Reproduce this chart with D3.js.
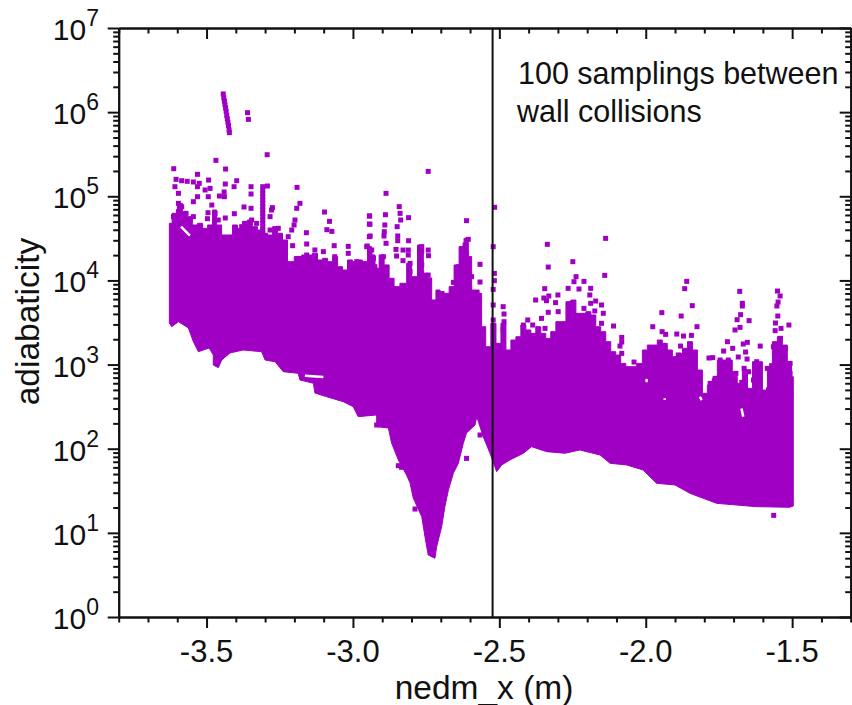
<!DOCTYPE html>
<html><head><meta charset="utf-8">
<script src="https://cdn.jsdelivr.net/npm/d3@7/dist/d3.min.js"></script>
<style>html,body{margin:0;padding:0;background:#fff}svg{display:block}text{font-family:"Liberation Sans",Arial,sans-serif;fill:#111}</style>
</head><body><svg id="c" width="852" height="705"></svg>
<script>
// values; y stored as log10(adiabaticity)
const xMajorTicks=[-3.5,-3.0,-2.5,-2.0,-1.5];
const xTickLabels=["-3.5","-3.0","-2.5","-2.0","-1.5"];
const xMinorTicks=[-3.8,-3.7,-3.6,-3.4,-3.3,-3.2,-3.1,-2.9,-2.8,-2.7,-2.6,-2.4,-2.3,-2.2,-2.1,-1.9,-1.8,-1.7,-1.6,-1.4,-1.3];
const yExponents=[0,1,2,3,4,5,6,7];
const wallSampleX=-2.523;
// lower edge of the dense cloud
const lowerEdge=[[-3.627,3.494],[-3.619,3.45],[-3.596,3.51],[-3.562,3.435],[-3.545,3.272],[-3.528,3.153],[-3.491,3.197],[-3.477,3.114],[-3.477,2.995],[-3.46,2.963],[-3.448,3.054],[-3.42,3.138],[-3.375,3.173],[-3.312,3.153],[-3.3,3.054],[-3.266,3.034],[-3.238,2.915],[-3.187,2.896],[-3.181,2.817],[-3.135,2.778],[-3.13,2.662],[-3.09,2.618],[-3.033,2.559],[-2.999,2.499],[-2.982,2.381],[-2.919,2.401],[-2.919,2.262],[-2.879,2.246],[-2.868,2.068],[-2.845,1.866],[-2.817,1.688],[-2.805,1.593],[-2.794,1.414],[-2.765,1.192],[-2.754,0.954],[-2.743,0.737],[-2.72,0.698],[-2.714,0.836],[-2.697,1.073],[-2.686,1.311],[-2.674,1.509],[-2.657,1.708],[-2.64,1.827],[-2.623,2.064],[-2.612,2.187],[-2.583,2.282],[-2.577,2.381],[-2.555,2.143],[-2.532,1.946],[-2.509,1.727],[-2.492,1.807],[-2.464,1.866],[-2.418,1.946],[-2.39,2.024],[-2.338,1.965],[-2.276,1.946],[-2.225,1.985],[-2.156,1.925],[-2.122,1.827],[-2.065,1.807],[-2.009,1.747],[-1.963,1.589],[-1.9,1.569],[-1.849,1.47],[-1.804,1.411],[-1.758,1.351],[-1.69,1.331],[-1.621,1.311],[-1.508,1.304],[-1.496,1.319]];
// upper edge of the dense cloud, read column by column
const upperEdge=[[-3.627,4.679],[-3.608,4.798],[-3.591,4.916],[-3.574,4.817],[-3.557,4.758],[-3.54,4.659],[-3.522,4.679],[-3.505,4.619],[-3.488,4.659],[-3.471,4.837],[-3.46,4.659],[-3.437,4.54],[-3.42,4.54],[-3.403,4.659],[-3.386,4.619],[-3.369,4.698],[-3.352,4.718],[-3.335,4.639],[-3.317,4.599],[-3.3,4.56],[-3.283,4.54],[-3.266,4.639],[-3.249,4.56],[-3.232,4.481],[-3.215,4.223],[-3.186,4.283],[-3.164,4.302],[-3.147,4.302],[-3.13,4.322],[-3.112,4.243],[-3.095,4.263],[-3.078,4.223],[-3.061,4.283],[-3.044,4.164],[-3.027,4.124],[-3.01,4.243],[-2.993,4.223],[-2.976,4.243],[-2.959,4.223],[-2.942,4.401],[-2.93,4.303],[-2.919,4.144],[-2.902,4.303],[-2.885,4.184],[-2.868,4.025],[-2.851,3.926],[-2.828,3.966],[-2.805,4.203],[-2.794,4.045],[-2.765,4.421],[-2.754,4.085],[-2.737,4.025],[-2.725,3.768],[-2.708,3.886],[-2.697,3.867],[-2.68,3.847],[-2.663,3.926],[-2.646,4.184],[-2.629,4.402],[-2.612,4.501],[-2.6,4.283],[-2.589,3.886],[-2.572,3.886],[-2.566,3.846],[-2.555,3.45],[-2.538,3.212],[-2.52,3.49],[-2.503,3.252],[-2.486,3.49],[-2.469,3.173],[-2.452,3.292],[-2.435,3.331],[-2.418,3.47],[-2.401,3.411],[-2.384,3.371],[-2.367,3.45],[-2.35,3.371],[-2.333,3.311],[-2.316,3.391],[-2.298,3.51],[-2.281,3.51],[-2.264,3.747],[-2.247,3.767],[-2.23,3.609],[-2.213,3.609],[-2.196,3.628],[-2.179,3.589],[-2.162,3.45],[-2.145,3.391],[-2.128,3.272],[-2.111,3.153],[-2.094,3.113],[-2.077,3.014],[-2.059,2.975],[-2.042,2.975],[-2.02,3.014],[-2.003,3.173],[-1.986,3.232],[-1.969,3.232],[-1.952,3.292],[-1.935,3.252],[-1.918,3.173],[-1.9,3.094],[-1.883,3.133],[-1.866,3.193],[-1.849,3.272],[-1.832,3.173],[-1.815,2.935],[-1.798,2.658],[-1.781,2.757],[-1.764,2.836],[-1.747,3.054],[-1.73,3.054],[-1.713,3.054],[-1.696,2.915],[-1.679,2.777],[-1.661,2.935],[-1.644,2.717],[-1.627,3.034],[-1.61,3.034],[-1.593,2.697],[-1.576,2.975],[-1.559,3.272],[-1.542,3.331],[-1.525,3.232],[-1.508,3.034],[-1.496,2.856]];
// streak near the top
const streakPoints=[[-3.443,6.216],[-3.441,6.17],[-3.439,6.13],[-3.437,6.09],[-3.435,6.05],[-3.433,6.01],[-3.431,5.96],[-3.429,5.92],[-3.427,5.88],[-3.425,5.84],[-3.423,5.79],[-3.422,5.756]];
// sparse points, left part
const sparseLeft=[[-3.36,5.994],[-3.357,5.914],[-3.293,5.494],[-3.468,5.427],[-3.612,5.328],[-3.435,5.324],[-3.531,5.261],[-3.397,5.185],[-3.493,5.193],[-3.436,5.146],[-3.406,5.114],[-3.348,5.114],[-3.292,5.122],[-3.191,5.106],[-3.348,5.027],[-3.44,5.051],[-3.439,4.995],[-3.456,5.003],[-3.372,4.873],[-3.348,4.857],[-3.275,4.865],[-3.097,4.813],[-3.405,4.793],[-3.495,4.805],[-3.497,4.734],[-3.436,4.742],[-3.08,4.702],[-3.089,4.603],[-3.072,4.583],[-3.159,4.567],[-3.158,4.433],[-3.206,4.413],[-3.016,4.405],[-3.064,4.413],[-2.944,4.766],[-2.944,4.67],[-2.944,4.52],[-3.604,5.201],[-3.585,5.185],[-3.566,5.178],[-3.545,5.17],[-3.525,5.154],[-3.608,5.114],[-3.596,5.035],[-3.596,4.916],[-3.596,4.817],[-3.613,4.758],[-3.585,4.876],[-3.57,4.797],[-3.556,4.718],[-3.545,4.758],[-3.505,5.075],[-3.494,4.995],[-3.482,4.896],[-3.471,4.797],[-3.46,4.718],[-3.488,5.094],[-3.531,5.114],[-3.531,4.995],[-3.545,4.936],[-3.308,5.114],[-3.308,5.075],[-3.308,5.035],[-3.308,4.996],[-3.308,4.956],[-3.308,4.917],[-3.308,4.877],[-3.308,4.837],[-3.308,4.797],[-3.308,4.758],[-3.308,4.718],[-3.308,4.679],[-3.308,4.639],[-3.308,4.6],[-3.308,4.56],[-3.346,4.718],[-3.369,4.678],[-3.38,4.639],[-3.346,4.599],[-3.329,4.678],[-3.278,4.837],[-3.283,4.758],[-3.283,4.599],[-3.255,4.619],[-3.181,4.916],[-3.192,4.857],[-3.198,4.718],[-3.201,4.659],[-3.209,4.599],[-3.221,4.52],[-3.187,4.262],[-3.158,4.302],[-3.13,4.362],[-3.101,4.342],[-3.062,4.282],[-3.016,4.322],[-2.987,4.223],[-2.953,4.401],[-2.942,4.322]];
// sparse points, middle part
const sparseMiddle=[[-2.743,5.296],[-2.887,5.035],[-2.516,4.869],[-2.842,4.877],[-2.839,4.797],[-2.837,4.718],[-2.943,4.766],[-2.889,4.781],[-2.81,4.746],[-2.942,4.667],[-2.612,4.71],[-2.891,4.659],[-2.893,4.579],[-2.849,4.639],[-2.941,4.528],[-2.894,4.528],[-2.847,4.528],[-2.847,4.472],[-2.81,4.472],[-2.887,4.441],[-2.606,4.488],[-2.617,4.421],[-2.521,4.401],[-2.336,4.429],[-2.137,4.5],[-2.951,4.409],[-2.936,4.361],[-2.93,4.262],[-2.925,4.163],[-2.853,4.369],[-2.829,4.361],[-2.811,4.361],[-2.811,4.302],[-2.765,4.401],[-2.765,4.342],[-2.743,4.361],[-2.742,4.294],[-2.851,4.29],[-2.829,4.235],[-2.896,4.282],[-2.902,4.203],[-2.885,4.155],[-2.805,4.203],[-2.805,4.104],[-2.765,4.183],[-2.765,4.084],[-2.743,4.064],[-2.739,4.005],[-2.97,4.183],[-2.566,4.191],[-2.566,3.981],[-2.612,4.322],[-2.606,4.243],[-2.64,4.163],[-2.646,4.084],[-2.595,4.045],[-2.657,3.977],[-2.517,4.084],[-2.517,3.997],[-2.521,3.894],[-2.521,3.708],[-2.521,3.53],[-2.487,3.688],[-2.484,3.601],[-2.484,3.51],[-2.487,3.411],[-2.333,4.159],[-2.249,4.223],[-2.238,4.045],[-2.245,3.985],[-2.211,3.989],[-2.14,4.06],[-2.345,3.902],[-2.265,3.906],[-2.228,3.898],[-2.188,3.906],[-2.191,3.827],[-2.348,3.791],[-2.331,3.815],[-2.3,3.827],[-2.376,3.767],[-2.339,3.759],[-2.308,3.736],[-2.171,3.755],[-2.188,3.728],[-2.151,3.708],[-2.253,3.728],[-2.211,3.668],[-2.174,3.637],[-2.145,3.609],[-2.333,3.621],[-2.299,3.629],[-2.356,3.549],[-2.403,3.53],[-2.386,3.47],[-2.344,3.43],[-2.418,3.47],[-2.151,3.49],[-2.612,1.885],[-2.788,1.283],[-2.566,2.163],[-2.845,1.798],[-2.834,1.779],[-2.919,2.282],[-2.705,3.827],[-2.705,3.728],[-2.697,3.609],[-2.703,3.49],[-2.743,3.866],[-2.743,3.767],[-2.737,3.569]];
// sparse points, right part
const sparseRight=[[-1.86,3.989],[-1.867,3.902],[-1.679,3.87],[-1.55,3.874],[-1.541,3.815],[-1.548,3.743],[-1.67,3.728],[-1.67,3.696],[-1.841,3.7],[-1.552,3.696],[-1.945,3.617],[-1.879,3.577],[-1.676,3.593],[-1.549,3.577],[-1.688,3.533],[-1.647,3.522],[-1.557,3.494],[-2.11,3.458],[-1.976,3.45],[-1.825,3.45],[-1.511,3.47],[-1.695,3.411],[-1.678,3.442],[-1.558,3.403],[-1.538,3.43],[-1.944,3.391],[-1.932,3.359],[-1.894,3.363],[-1.871,3.339],[-1.844,3.347],[-2.082,3.323],[-2.082,3.268],[-2.088,3.22],[-2.082,3.133],[-1.721,3.272],[-1.667,3.244],[-1.653,3.264],[-1.54,3.312],[-1.609,3.22],[-1.734,3.161],[-1.703,3.193],[-1.659,3.149],[-1.564,3.212],[-1.524,3.193],[-1.784,3.078],[-1.771,3.082],[-1.684,3.09],[-1.654,3.066],[-2.04,3.03],[-1.889,3.114],[-1.881,3.22],[-1.746,3.054],[-1.718,3.054],[-1.57,2.987],[-1.621,3.034],[-1.507,3.014],[-1.763,2.836],[-1.78,2.777],[-1.692,2.896],[-1.664,2.955],[-1.649,2.915],[-1.672,2.789],[-1.585,2.955],[-1.575,2.856],[-1.507,2.816],[-1.507,2.896],[-1.536,2.698],[-1.547,2.579],[-1.512,2.519],[-1.505,2.658],[-1.581,2.698],[-1.758,2.737],[-1.632,2.816],[-1.615,2.896],[-1.638,2.678],[-1.563,1.208]];
// gaps seen inside the cloud: x1, log1, x2, log2, in data units
const cloudGaps=[[-3.587,4.639,-3.557,4.532],[-3.164,2.868,-3.101,2.852],[-1.997,2.83,-1.997,2.79],[-1.935,2.6,-1.935,2.58],[-1.673,2.479,-1.667,2.38],[-1.815,2.618,-1.809,2.578]];

const purple="#a000c4", ink="#111";
const plotL=118.7,plotR=850.7,plotT=28,plotB=617;
const svg=d3.select("#c");
const x=d3.scaleLinear().domain([-3.8,-1.3]).range([plotL,plotR]);
const y=d3.scaleLog().domain([1,1e7]).range([plotB,plotT]);
const yOf=l=>y(Math.pow(10,l));

// cloud: blocky top edge, plain bottom edge
const topPath=d3.line().curve(d3.curveStep).x(d=>x(d[0])).y(d=>yOf(d[1]))(upperEdge);
const botPath=d3.line().x(d=>x(d[0])).y(d=>yOf(d[1]))(lowerEdge.slice().reverse());
svg.append("path").attr("d",topPath+"L"+botPath.slice(1)+"Z").attr("fill",purple).attr("stroke",purple).attr("stroke-width",1);
svg.append("g").selectAll("line").data(cloudGaps).join("line")
 .attr("x1",d=>x(d[0])).attr("y1",d=>yOf(d[1])).attr("x2",d=>x(d[2])).attr("y2",d=>yOf(d[3]))
 .attr("stroke","#fff").attr("stroke-width",2.5);
// sparse squares
const sq=5;
svg.append("g").selectAll("rect").data(streakPoints.concat(sparseLeft,sparseMiddle,sparseRight)).join("rect")
 .attr("x",d=>x(d[0])-sq/2).attr("y",d=>yOf(d[1])-sq/2).attr("width",sq).attr("height",sq).attr("fill",purple);

// minor log tick values
const yMinor=[];yExponents.slice(0,-1).forEach(e=>{[2,3,4,5,6,7,8,9].forEach(m=>yMinor.push(m*Math.pow(10,e)))});
const yMajor=yExponents.map(e=>Math.pow(10,e));

function style(g){g.select(".domain").attr("stroke",ink).attr("stroke-width",2);g.selectAll("line").attr("stroke",ink).attr("stroke-width",2);g.selectAll("text").remove();}
const noFmt=()=>"";
function axis(gen,scale,values,size,tx,ty){
 svg.append("g").attr("transform",`translate(${tx},${ty})`).call(gen(scale).tickValues(values).tickSize(size).tickSizeOuter(0).tickFormat(noFmt)).call(style);
}
axis(d3.axisBottom,x,xMajorTicks,11,0,plotB);
axis(d3.axisBottom,x,xMinorTicks,5.5,0,plotB);
axis(d3.axisTop,x,xMajorTicks,-11,0,plotT);
axis(d3.axisTop,x,xMinorTicks,-5.5,0,plotT);
axis(d3.axisLeft,y,yMajor,11,plotL,0);
axis(d3.axisLeft,y,yMinor,5.5,plotL,0);
axis(d3.axisRight,y,yMajor,-11,plotR,0);
axis(d3.axisRight,y,yMinor,-5.5,plotR,0);

// tick labels
svg.append("g").selectAll("text").data(xMajorTicks).join("text").attr("x",d=>x(d)).attr("y",661.5).attr("text-anchor","middle").attr("font-size",31).text((d,i)=>xTickLabels[i]);
const yl=svg.append("g").selectAll("text").data(yExponents).join("text").attr("x",99).attr("y",d=>y(Math.pow(10,d))+12).attr("text-anchor","end").attr("font-size",30);
yl.append("tspan").text("10");
yl.append("tspan").attr("font-size",23).attr("dy",-14).text(d=>d);

// vertical line
svg.append("line").attr("x1",x(wallSampleX)).attr("x2",x(wallSampleX)).attr("y1",plotT).attr("y2",plotB).attr("stroke","#111").attr("stroke-width",2);

// titles
svg.append("text").attr("x",484).attr("y",699).attr("text-anchor","middle").attr("font-size",33.5).text("nedm_x (m)");
svg.append("text").attr("transform","translate(39,321.5) rotate(-90)").attr("text-anchor","middle").attr("font-size",33.5).text("adiabaticity");
svg.append("text").attr("x",518).attr("y",84).attr("font-size",30.5).text("100 samplings between");
svg.append("text").attr("x",517).attr("y",122).attr("font-size",30.5).text("wall collisions");
</script></body></html>
